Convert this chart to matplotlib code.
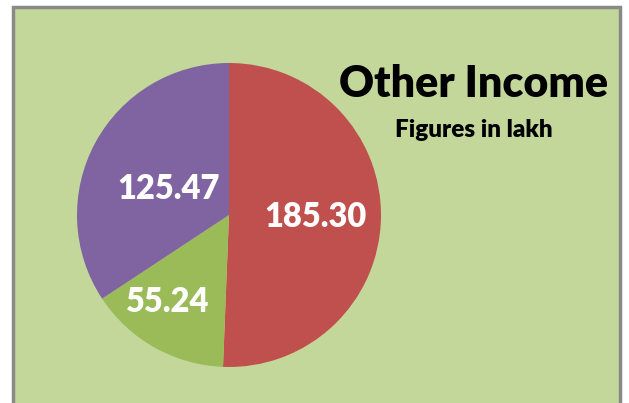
import matplotlib
matplotlib.use("Agg")
import matplotlib.pyplot as plt
import numpy as np
from matplotlib.patches import Rectangle

categories = ["A", "B", "C"]
values = [185.30, 55.24, 125.47]
value_labels = ["185.30", "55.24", "125.47"]
colors = ["#C0504D", "#9BBB59", "#8064A2"]
title = "Other Income"
subtitle = "Figures in lakh"

W, H = 629, 403
fig = plt.figure(figsize=(W / 100, H / 100), dpi=100)
fig.patch.set_facecolor("white")

# chart area background with border
bg = Rectangle((13 / W, -0.05), (620 - 13) / W, (403 - 7) / H + 0.05,
               transform=fig.transFigure, facecolor="#C4D79B",
               edgecolor="#898989", linewidth=2.5, zorder=-10)
fig.add_artist(bg)

cx, cy, r = 229, 215, 152
ax = fig.add_axes([(cx - r) / W, (H - cy - r) / H, 2 * r / W, 2 * r / H])
ax.set_zorder(5)
ax.set_facecolor("none")
wedges, _ = ax.pie(values, colors=colors, startangle=90, counterclock=False,
                   radius=1.0, wedgeprops=dict(linewidth=0))
ax.set_xlim(-1, 1)
ax.set_ylim(-1, 1)
ax.set_aspect("equal")
ax.axis("off")

dists = [0.57, 0.70, 0.43]
angle_offsets = [0, -6, 5]
for w, lab, d, off in zip(wedges, value_labels, dists, angle_offsets):
    ang = np.deg2rad((w.theta1 + w.theta2) / 2 + off)
    ax.text(d * np.cos(ang), d * np.sin(ang), lab, ha="center", va="center",
            color="white", fontsize=23.5, fontweight="heavy", family="Lato")

fig.text(474 / W, 1 - 84 / H, title, ha="center", va="center",
         fontsize=31, fontweight="heavy", family="Lato", color="black", zorder=6)
fig.text(474 / W, 1 - 130 / H, subtitle, ha="center", va="center",
         fontsize=17.5, fontweight="heavy", family="Lato", color="black", zorder=6)

fig.savefig("out.png", dpi=100, facecolor="white")
